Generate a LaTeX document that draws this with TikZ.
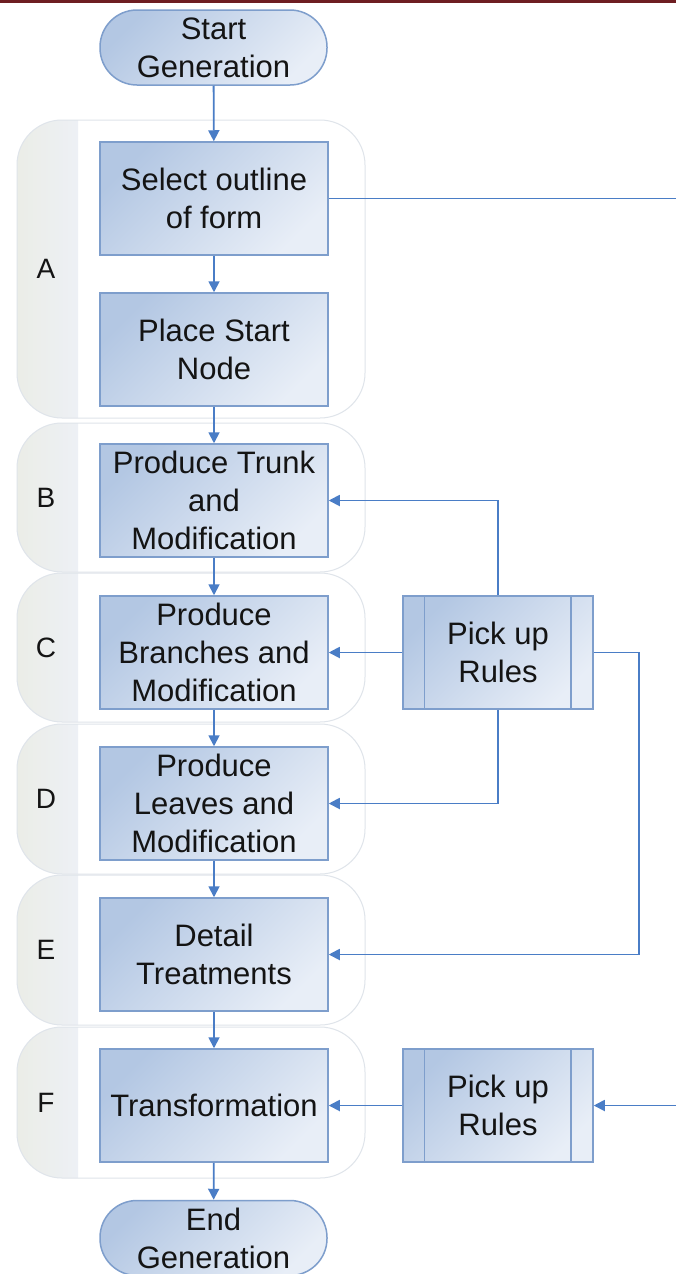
\documentclass[tikz,border=0pt]{standalone}
\usepackage{fontspec}
\setmainfont{Liberation Sans}
\usetikzlibrary{arrows.meta}
\definecolor{ln}{HTML}{4A7DC6}
\definecolor{bord}{HTML}{7E9ECC}
\definecolor{fa}{HTML}{B3C7E3}
\definecolor{fb}{HTML}{E8EEF7}
\definecolor{laneb}{HTML}{DFE4EA}
\definecolor{banda}{HTML}{EBEDE7}
\definecolor{bandb}{HTML}{EDF0F5}
\definecolor{topbar}{HTML}{6E1E22}
\definecolor{txt}{HTML}{141414}
\begin{document}
\begin{tikzpicture}[x=1pt,y=-1pt,
  every node/.style={text=txt, font=\fontsize{31}{38}\selectfont, align=center, inner sep=0pt},
  procbox/.style={draw=bord, line width=1.5pt, top color=fa, bottom color=fb, shading angle=45,
    minimum width=228pt, minimum height=113pt},
  termbox/.style={draw=bord, line width=1.5pt, top color=fa, bottom color=fb, shading angle=45,
    minimum width=227pt, minimum height=75pt, rounded corners=37pt},
  rulebox/.style={draw=bord, line width=1.5pt, top color=fa, bottom color=fb, shading angle=45,
    minimum width=190pt, minimum height=113pt},
  conn/.style={draw=ln, line width=1.8pt, -{Triangle[length=11pt,width=11pt]}},
  plain/.style={draw=ln, line width=1.8pt},
  lanelabel/.style={font=\fontsize{28}{34}\selectfont}
]
\useasboundingbox (0,0) rectangle (676,1274);
\fill[white] (0,0) rectangle (676,1274);
\fill[topbar] (0,0) rectangle (676,3);

% lanes
\foreach \top/\bot/\lab/\nm in {120/418/A/la,423/572/B/lb,573/722/C/lc,724/874/D/ld,875/1025/E/le,1027/1178/F/lf}{
  \begin{scope}
    \clip[rounded corners=45pt] (17,\top) rectangle (365,\bot);
    \fill[white] (17,\top) rectangle (365,\bot);
    \shade[left color=banda, right color=bandb] (17,\top) rectangle (78,\bot);
  \end{scope}
  \draw[laneb, line width=1pt, rounded corners=45pt] (17,\top) rectangle (365,\bot);
  \node[lanelabel] (\nm) at (46,{(\top+\bot)/2}) {\lab};
}

% terminals
\node[termbox] (start) at (213.5,47.5) {Start\\Generation};
\node[termbox] (end) at (213.5,1238) {End\\Generation};

% process boxes
\node[procbox] (b1) at (214,198.5) {Select outline\\of form};
\node[procbox] (b2) at (214,349.5) {Place Start\\Node};
\node[procbox] (bB) at (214,500.5) {Produce Trunk\\and\\Modification};
\node[procbox] (bC) at (214,652.5) {Produce\\Branches and\\Modification};
\node[procbox] (bD) at (214,803.5) {Produce\\Leaves and\\Modification};
\node[procbox] (bE) at (214,954.5) {Detail\\Treatments};
\node[procbox] (bF) at (214,1105.5) {Transformation};

% predefined process boxes
\node[rulebox] (pr1) at (498,652.5) {Pick up\\Rules};
\node[rulebox] (pr2) at (498,1105.5) {Pick up\\Rules};
\foreach \p in {pr1,pr2}{
  \draw[bord, line width=1.5pt] ([xshift=22pt]\p.north west) -- ([xshift=22pt]\p.south west);
  \draw[bord, line width=1.5pt] ([xshift=-23pt]\p.north east) -- ([xshift=-23pt]\p.south east);
}

% vertical flow
\draw[conn] (start) -- (b1);
\draw[conn] (b1) -- (b2);
\draw[conn] (b2) -- (bB);
\draw[conn] (bB) -- (bC);
\draw[conn] (bC) -- (bD);
\draw[conn] (bD) -- (bE);
\draw[conn] (bE) -- (bF);
\draw[conn] (bF) -- (end);

% side connectors
\coordinate (r1) at (676,198.5);
\coordinate (r2) at (676,1105.5);
\draw[plain] (b1.east) -- (r1);
\draw[conn] (pr1.north) |- (bB.east);
\draw[conn] (pr1.west) -- (bC.east);
\draw[conn] (pr1.south) |- (bD.east);
\draw[conn] (pr1.east) -- ++(45,0) |- (bE.east);
\draw[conn] (pr2.west) -- (bF.east);
\draw[conn] (r2) -- (pr2.east);
\end{tikzpicture}
\end{document}
